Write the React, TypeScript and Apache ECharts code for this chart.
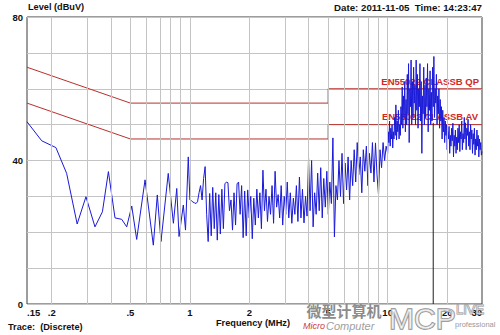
import React, { useEffect, useRef } from 'react';
import * as echarts from 'echarts';

// ---- axis definitions ----
const xMin = 0.15;
const xMax = 30;
const tickFreqs = [0.15, 0.2, 0.5, 1, 2, 5, 10, 20, 30];
const tickLabels = ['.15', '.2', '.5', '1', '2', '5', '10', '20', '30'];
const gridFreqs = [0.2, 0.3, 0.4, 0.5, 0.6, 0.7, 0.8, 0.9, 1, 2, 3, 4, 5, 6, 7, 8, 9, 10, 20];
const yLabelValues = [0, 40, 80];

// ---- limit lines (EN55022 Class B) ----
const limitFreq = [0.15, 0.5, 5, 5, 30];
const qpLevel = [66, 56, 56, 60, 60];
const avLevel = [56, 46, 46, 50, 50];
const qpName = 'EN55022 CLASSB QP';
const avName = 'EN55022 CLASSB AV';

// ---- measured trace, 0.15 - 1 MHz (read point by point) ----
const lowFreq = [0.15, 0.178, 0.21, 0.238, 0.269, 0.298, 0.331, 0.361, 0.387, 0.418, 0.452, 0.479, 0.508, 0.538, 0.593, 0.653, 0.684, 0.714, 0.777, 0.825, 0.858, 0.881, 0.926, 0.95, 0.981];
const lowLevel = [50.8, 45.5, 43.6, 36.4, 22.3, 29.9, 21.5, 25.7, 36.9, 24.0, 23.6, 21.5, 27.3, 18.0, 34.6, 16.4, 30.4, 17.4, 36.4, 22.5, 32.2, 18.8, 27.6, 20.6, 41.0];

// ---- sweep 1 - 10 MHz (even log steps) ----
const sweepAStart = 1;
const sweepAEnd = 10;
const sweepALevel = [
  29, 28.8, 28.4, 28.2, 28, 28.5, 31, 33, 29, 35,
  38.3, 25, 17.4, 30.8, 19, 32.5, 21, 31, 17.8, 30.5,
  19.5, 32, 21, 33.5, 34, 33.8, 26, 29, 20.6, 31,
  22, 33.5, 34, 25, 33, 18.5, 31.5, 19, 31.8, 24,
  30, 18.2, 29.5, 22, 32, 24, 31, 21, 37.3, 26,
  32, 23, 30, 25, 33, 22.5, 37, 27, 30.5, 24,
  33, 22, 30, 25, 34, 24, 31, 22.5, 29.5, 25,
  33, 23, 35.4, 24, 32, 22.6, 30, 24.5, 40.7, 26,
  40, 21.5, 31, 25, 36.5, 26, 38, 24, 35, 27,
  37, 25, 34, 28, 46.3, 18.7, 33, 29, 40, 30,
  42, 28, 39.3, 31.8, 41, 29, 40, 33, 43, 34,
  45, 36, 41, 31, 43, 37, 44, 33, 42, 36.5,
  45, 34, 44.9, 36, 30.4, 43, 38, 45, 40, 44,
  42,
];

// ---- sweep 10 - 30 MHz (even log steps) ----
const sweepBStart = 10;
const sweepBEnd = 30;
const sweepBLevel = [
  43, 48, 45, 51, 44, 49, 46, 50, 43.5, 48,
  46, 52, 47, 55.5, 45.7, 51, 48, 54, 46, 50,
  47, 55, 50, 60.5, 49, 58, 52, 62, 48, 57,
  50, 64, 53, 67, 45, 60, 55, 68, 50, 62,
  52, 66, 56, 61, 50, 68, 54, 64, 49, 60,
  55, 67, 51, 62, 42, 58, 53, 66, 50, 61,
  52, 63, 55, 67, 48, 60, 54, 65, 50, 59,
  51, 66, 55, 69, 52, 60, 56, 64, 50, 58,
  53, 60, 49, 57, 51, 55, 46, 54, 48, 52,
  45, 51, 47, 50, 43, 48, 46, 49.5, 42, 47,
  44, 49, 45.5, 50.4, 41, 47, 44, 48.5, 42, 46.5,
  43, 49, 45, 50, 42.5, 48, 46, 51, 43, 47.5,
  45, 52, 46, 50.5, 43, 49, 47, 51.5, 44, 48,
  43, 50, 46, 48.5, 42, 47.5, 44.5, 49, 41.5, 46,
  43, 48.5, 44, 47, 41, 46, 43, 45, 41.5, 42.5,
];

// ---- marker line ----
const markerFreq = 17;
const markerLevel = 50.5;

const FONT = '"Liberation Sans", Arial, sans-serif';
const lg = (f: number) => Math.log10(f);

function sweep(start: number, end: number, levels: number[]): number[][] {
  const n = levels.length;
  const a = lg(start);
  const b = lg(end);
  return levels.map((v, i) => [a + ((b - a) * i) / (n - 1), v]);
}

function buildOption(): any {
  const trace: number[][] = [
    ...lowFreq.map((f, i) => [lg(f), lowLevel[i]]),
    ...sweep(sweepAStart, sweepAEnd, sweepALevel),
    ...sweep(sweepBStart, sweepBEnd, sweepBLevel).slice(1),
  ];
  const qp = limitFreq.map((f, i) => [lg(f), qpLevel[i]]);
  const av = limitFreq.map((f, i) => [lg(f), avLevel[i]]);
  const labelFor = (v: number) => {
    let best = 0;
    let bd = Infinity;
    tickFreqs.forEach((f, i) => {
      const d = Math.abs(lg(f) - v);
      if (d < bd) {
        bd = d;
        best = i;
      }
    });
    return tickLabels[best];
  };
  const textBase = { fontFamily: FONT, fontWeight: 'bold', fill: '#111', fontSize: 9.5 };
  return {
    animation: false,
    backgroundColor: '#ffffff',
    grid: {
      left: 27,
      right: 18,
      top: 17,
      bottom: 31,
      show: true,
      borderColor: '#3a3a3a',
      borderWidth: 1,
      backgroundColor: 'transparent',
      containLabel: false,
      outerBoundsMode: 'none',
    },
    xAxis: {
      type: 'value',
      min: lg(xMin),
      max: lg(xMax),
      axisLine: { show: false },
      axisTick: { show: false },
      splitLine: { show: false },
      axisLabel: {
        customValues: tickFreqs.map(lg),
        formatter: (v: number) => labelFor(v),
        fontFamily: FONT,
        fontWeight: 'bold',
        fontSize: 9.5,
        color: '#111',
        margin: 3,
        alignMinLabel: 'left',
        alignMaxLabel: 'right',
      },
    },
    yAxis: {
      type: 'value',
      min: 0,
      max: 80,
      interval: 10,
      axisLine: { show: false },
      axisTick: { show: false },
      splitLine: { show: true, lineStyle: { color: '#c4c4c4', width: 1 } },
      axisLabel: {
        formatter: (v: number) => (yLabelValues.includes(v) ? String(v) : ''),
        fontFamily: FONT,
        fontWeight: 'bold',
        fontSize: 9.5,
        color: '#111',
        margin: 4,
      },
    },
    series: [
      {
        name: 'grid',
        type: 'line',
        data: [],
        z: 1,
        silent: true,
        markLine: {
          silent: true,
          symbol: ['none', 'none'],
          label: { show: false },
          lineStyle: { color: '#c4c4c4', width: 1, type: 'solid' },
          data: gridFreqs.map((f) => ({ xAxis: lg(f) })),
        },
      },
      {
        name: qpName,
        type: 'line',
        data: qp,
        showSymbol: false,
        symbol: 'none',
        z: 2,
        lineStyle: { color: '#b8302c', width: 1 },
      },
      {
        name: avName,
        type: 'line',
        data: av,
        showSymbol: false,
        symbol: 'none',
        z: 2,
        lineStyle: { color: '#b8302c', width: 1 },
      },
      {
        name: 'Trace',
        type: 'line',
        data: trace,
        showSymbol: false,
        symbol: 'none',
        z: 3,
        lineStyle: { color: '#1a1ad8', width: 1 },
      },
      {
        name: 'Marker',
        type: 'line',
        data: [
          [lg(markerFreq), 0],
          [lg(markerFreq), markerLevel],
        ],
        showSymbol: false,
        symbol: 'none',
        z: 4,
        lineStyle: { color: '#1e1e1e', width: 1 },
      },
    ],
    graphic: [
      { type: 'text', x: 28, y: 7, z: 0, style: { ...textBase, fontSize: 9.2, text: 'Level (dBuV)', align: 'left', verticalAlign: 'middle' } },
      { type: 'text', x: 482, y: 7, z: 0, style: { ...textBase, fontSize: 9.7, text: 'Date: 2011-11-05  Time: 14:23:47', align: 'right', verticalAlign: 'middle' } },
      { type: 'text', x: 253, y: 323, z: 0, style: { ...textBase, fontSize: 9.2, text: 'Frequency (MHz)', align: 'center', verticalAlign: 'middle' } },
      { type: 'text', x: 8, y: 327, z: 0, style: { ...textBase, fontSize: 9.2, text: 'Trace:  (Discrete)', align: 'left', verticalAlign: 'middle' } },
      { type: 'text', x: 479, y: 81, z: 0, style: { ...textBase, fill: '#d02828', fontSize: 9.5, text: qpName, align: 'right', verticalAlign: 'middle' } },
      { type: 'text', x: 478, y: 116, z: 0, style: { ...textBase, fill: '#d02828', fontSize: 9.5, text: avName, align: 'right', verticalAlign: 'middle' } },
      // watermark
      { type: 'text', x: 344, y: 310, z: 100, style: { fontFamily: '"Noto Sans CJK SC", sans-serif', fontWeight: 'bold', fontSize: 15, fill: '#8c8c8c', text: '微型计算机', align: 'center', verticalAlign: 'middle' } },
      { type: 'text', x: 303, y: 326, z: 100, style: { fontFamily: FONT, fontStyle: 'italic', fontSize: 9, fill: '#cf3a3a', text: 'Micro', align: 'left', verticalAlign: 'middle' } },
      { type: 'text', x: 326, y: 326, z: 100, style: { fontFamily: FONT, fontStyle: 'italic', fontSize: 11, fill: '#a0a0a0', text: 'Computer', align: 'left', verticalAlign: 'middle' } },
      { type: 'text', x: 389, y: 318, z: 100, style: { fontFamily: FONT, fontSize: 30, fill: 'rgba(255,255,255,0.6)', stroke: '#8e8e8e', lineWidth: 1.5, text: 'MCP', align: 'left', verticalAlign: 'middle' } },
      { type: 'text', x: 456, y: 309, z: 100, style: { fontFamily: FONT, fontSize: 13, fill: 'rgba(255,255,255,0.6)', stroke: '#8e8e8e', lineWidth: 1, text: 'LIVE', align: 'left', verticalAlign: 'middle' } },
      { type: 'text', x: 455, y: 324, z: 100, style: { fontFamily: FONT, fontSize: 7.5, fill: '#9a9a9a', text: 'professional', align: 'left', verticalAlign: 'middle' } },
    ],
  };
}

export default function App() {
  const ref = useRef<HTMLDivElement>(null);
  useEffect(() => {
    if (!ref.current) return;
    const chart = echarts.init(ref.current, undefined, { renderer: 'svg' });
    chart.setOption(buildOption());
    return () => chart.dispose();
  }, []);
  return (
    <div
      ref={ref}
      style={{ position: 'fixed', left: 0, top: 0, width: 500, height: 335, background: '#fff' }}
    />
  );
}
